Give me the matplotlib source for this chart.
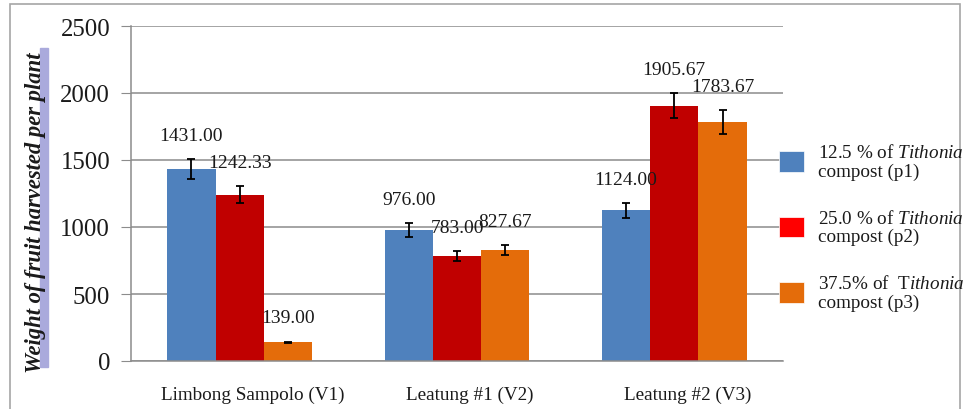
import numpy as np
import matplotlib
matplotlib.use("Agg")
import matplotlib.pyplot as plt
import matplotlib.transforms as mtransforms
from matplotlib.patches import Patch, Rectangle

plt.rcParams['font.family'] = ['Liberation Serif', 'DejaVu Serif']
plt.rcParams['mathtext.fontset'] = 'custom'
plt.rcParams['mathtext.rm'] = 'Liberation Serif'
plt.rcParams['mathtext.it'] = 'Liberation Serif:italic'

# data
varieties = ['Limbong Sampolo (V1)', 'Leatung #1 (V2)', 'Leatung #2 (V3)']
p1 = [1431.00, 976.00, 1124.00]
p2 = [1242.33, 783.00, 1905.67]
p3 = [139.00, 827.67, 1783.67]
p1_err = [75, 53, 58]
p2_err = [63, 38, 95]
p3_err = [6, 38, 90]
legend_labels = ['12.5 % of $\\mathit{Tithonia}$\ncompost (p1)',
                 '25.0 % of $\\mathit{Tithonia}$\ncompost (p2)',
                 '37.5% of  T$\\mathit{ithonia}$\ncompost (p3)']

bar_colors = ['#4F81BD', '#C00000', '#E46C0A']
legend_colors = ['#4F81BD', '#FF0000', '#E46C0A']
grey = '#8C8C8C'
txt = '#1A1A1A'

fig = plt.figure(figsize=(9.67, 4.10), dpi=100)
ax = fig.add_axes([131/967, 48/410, (783-131)/967, 335/410])

# outer frame
fig.patches.append(Rectangle((10/967, -0.02), 950/967, 1.0 - 5/410 + 0.02,
                             transform=fig.transFigure, fill=False,
                             edgecolor='#A6A6A6', lw=1.2))

x = np.arange(len(varieties))
w = 0.222
series = [(p1, p1_err), (p2, p2_err), (p3, p3_err)]
for i, (vals, errs) in enumerate(series):
    xs = x + (i - 1) * w
    ax.bar(xs, vals, w, color=bar_colors[i], zorder=2)
    ax.errorbar(xs, vals, yerr=errs, fmt='none', ecolor='black',
                elinewidth=1.3, capsize=3.2, capthick=1.3, zorder=3)
    for xx, v, e in zip(xs, vals, errs):
        ax.annotate('%.2f' % v, (xx, v + e), xytext=(0, 17),
                    textcoords='offset points', ha='center', va='center',
                    fontsize=14, color=txt, zorder=4)

ax.set_xlim(-0.5, 2.5)
ax.set_ylim(0, 2500)
ax.set_yticks(range(0, 2501, 500))
ax.set_xticks(x)
ax.set_xticklabels(varieties, fontsize=13.8, color=txt)
ax.tick_params(axis='x', length=0, pad=18)
ax.tick_params(axis='y', length=7, color=grey, labelsize=17.8,
               labelcolor=txt, pad=8)
# category labels sit a little right of the group centres
shift = mtransforms.ScaledTranslation(0.13, 0, fig.dpi_scale_trans)
for lab in ax.get_xticklabels():
    lab.set_transform(lab.get_transform() + shift)
ax.yaxis.grid(True, color=grey, lw=1.1, zorder=0)
ax.set_axisbelow(True)
for s in ['top', 'right']:
    ax.spines[s].set_visible(False)
for s in ['left', 'bottom']:
    ax.spines[s].set_color(grey)
    ax.spines[s].set_linewidth(1.1)

# y label with its highlight band
fig.patches.append(Rectangle((40/967, 42/410), 8/967, 319/410,
                             transform=fig.transFigure, color='#AAAADC',
                             zorder=0))
fig.text(36/967, 0.48, 'Weight of fruit harvested per plant', rotation=90,
         ha='center', va='center', fontsize=16.3, fontweight='bold',
         fontstyle='italic', color=txt)

handles = [Patch(facecolor=c, edgecolor='#FFFFFF', lw=0.5) for c in legend_colors]
leg = fig.legend(handles, legend_labels, loc='center left',
                 bbox_to_anchor=(779/967, 0.444), bbox_transform=fig.transFigure,
                 frameon=False, fontsize=13.8, handlelength=1.3, handleheight=1.3,
                 handletextpad=0.75, labelspacing=1.5, borderpad=0,
                 borderaxespad=0, labelcolor=txt)
for t in leg.get_texts():
    t.set_linespacing(1.1)

fig.savefig('out.png', dpi=100, facecolor='white')
